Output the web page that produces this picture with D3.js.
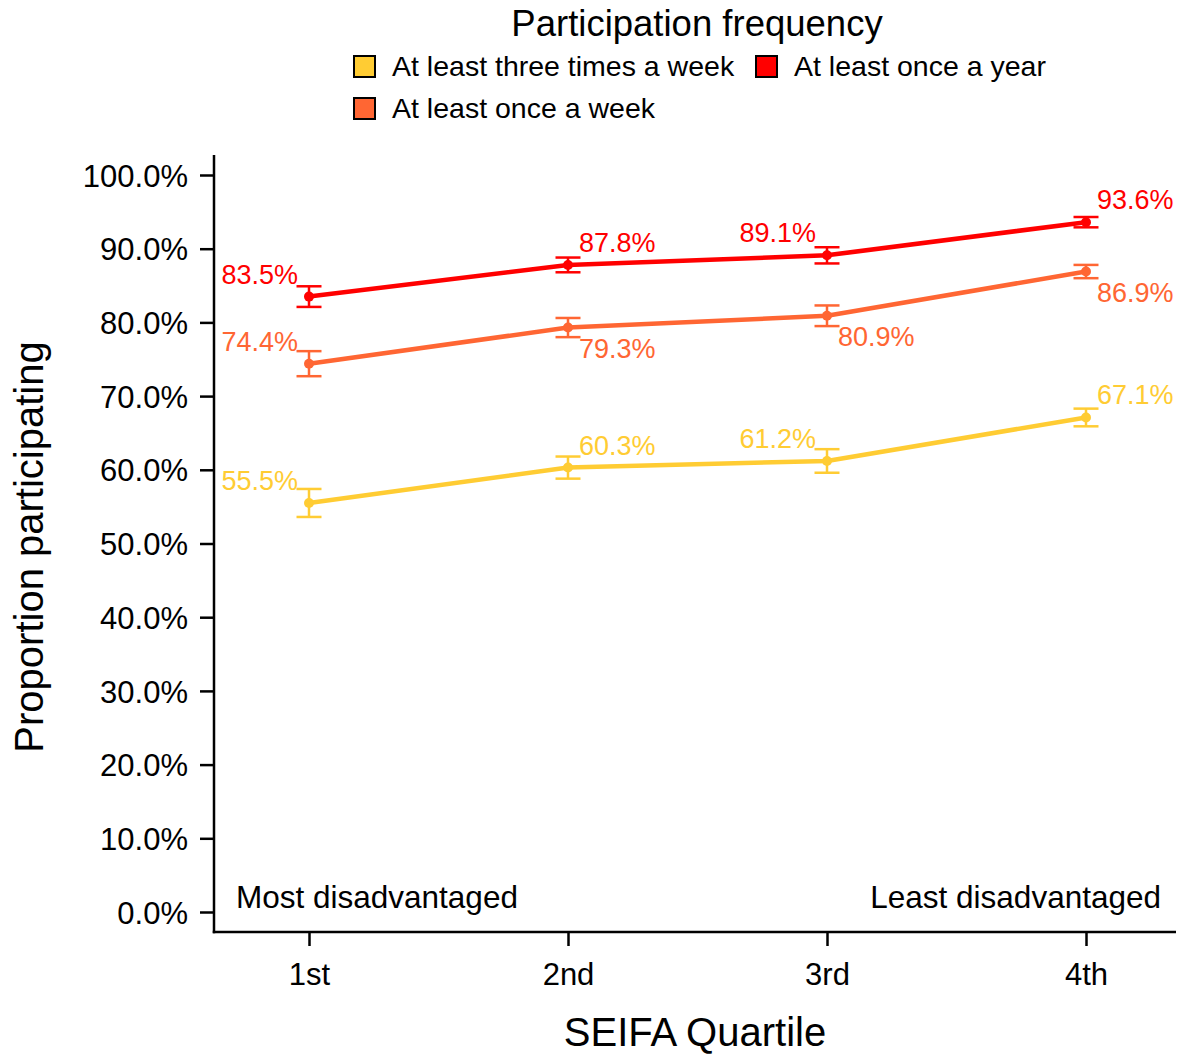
<!DOCTYPE html>
<html>
<head>
<meta charset="utf-8">
<script src="https://cdn.jsdelivr.net/npm/d3@7"></script>
<style>
  html, body { margin: 0; padding: 0; background: #fff; }
  svg { display: block; font-family: "Liberation Sans", Arial, sans-serif; }
</style>
</head>
<body>
<svg id="chart" width="1178" height="1055"></svg>
<script>
// ---- data ----
const quartiles = ["1st", "2nd", "3rd", "4th"];
const seriesNames = ["At least three times a week", "At least once a week", "At least once a year"];
const threeTimesWeek = [55.5, 60.3, 61.2, 67.1];
const threeTimesWeekLow = [53.6, 58.8, 59.6, 65.9];
const threeTimesWeekHigh = [57.4, 61.8, 62.8, 68.3];
const onceWeek = [74.4, 79.3, 80.9, 86.9];
const onceWeekLow = [72.7, 78.0, 79.5, 86.0];
const onceWeekHigh = [76.1, 80.6, 82.3, 87.8];
const onceYear = [83.5, 87.8, 89.1, 93.6];
const onceYearLow = [82.1, 86.8, 88.0, 92.9];
const onceYearHigh = [84.9, 88.8, 90.2, 94.3];
const yTicks = [0, 10, 20, 30, 40, 50, 60, 70, 80, 90, 100];

// ---- styles / label placement ----
const colors = ["#FFCC33", "#FF6633", "#FF0000"];
// label side: [horizontal: -1 left / 1 right, vertical: "above" / "below"]
const labelPlacement = [
  [[-1, "above"], [1, "above"], [-1, "above"], [1, "above"]],
  [[-1, "above"], [1, "below"], [1, "below"], [1, "below"]],
  [[-1, "above"], [1, "above"], [-1, "above"], [1, "above"]]
];

const series = [
  { name: seriesNames[0], values: threeTimesWeek, low: threeTimesWeekLow, high: threeTimesWeekHigh, color: colors[0] },
  { name: seriesNames[1], values: onceWeek, low: onceWeekLow, high: onceWeekHigh, color: colors[1] },
  { name: seriesNames[2], values: onceYear, low: onceYearLow, high: onceYearHigh, color: colors[2] }
];

const svg = d3.select("#chart");

const x = d3.scalePoint().domain(quartiles).range([309, 1086]);
const y = d3.scaleLinear().domain([0, 100]).range([912, 175]);

const axisLeftX = 214, axisBottomY = 932, axisTopY = 155, axisRightX = 1176;

// y axis
const yAxis = d3.axisLeft(y).tickValues(yTicks).tickFormat(d => d.toFixed(1) + "%").tickSize(14).tickPadding(12);
const gy = svg.append("g").attr("transform", `translate(${axisLeftX},0)`).call(yAxis);
gy.select(".domain").remove();
gy.selectAll(".tick line").attr("stroke", "#000").attr("stroke-width", 2.5);
gy.selectAll(".tick text").attr("font-size", 31).attr("fill", "#000").attr("font-family", "Liberation Sans, Arial, sans-serif").attr("dy", "0.36em");
svg.append("line").attr("x1", axisLeftX).attr("x2", axisLeftX).attr("y1", axisTopY).attr("y2", axisBottomY + 1.25)
  .attr("stroke", "#000").attr("stroke-width", 2.5);

// x axis
const xAxis = d3.axisBottom(x).tickSize(14).tickPadding(17);
const gx = svg.append("g").attr("transform", `translate(0,${axisBottomY})`).call(xAxis);
gx.select(".domain").remove();
gx.selectAll(".tick line").attr("stroke", "#000").attr("stroke-width", 2.5);
gx.selectAll(".tick text").attr("font-size", 31).attr("fill", "#000").attr("font-family", "Liberation Sans, Arial, sans-serif");
svg.append("line").attr("x1", axisLeftX - 1.25).attr("x2", axisRightX).attr("y1", axisBottomY).attr("y2", axisBottomY)
  .attr("stroke", "#000").attr("stroke-width", 2.5);

// axis titles
svg.append("text").attr("x", (axisLeftX + axisRightX) / 2).attr("y", 1046).attr("text-anchor", "middle")
  .attr("font-size", 40).attr("fill", "#000").text("SEIFA Quartile");
svg.append("text").attr("transform", "translate(43,547) rotate(-90)").attr("text-anchor", "middle")
  .attr("font-size", 40).attr("fill", "#000").text("Proportion participating");

// annotations
svg.append("text").attr("x", 236).attr("y", 908).attr("font-size", 31.5).attr("fill", "#000").text("Most disadvantaged");
svg.append("text").attr("x", 1161).attr("y", 908).attr("text-anchor", "end").attr("font-size", 31.5).attr("fill", "#000").text("Least disadvantaged");

// series
const line = d3.line().x((d, i) => x(quartiles[i])).y(d => y(d));
const capHalf = 12.5;

series.forEach((s, si) => {
  const g = svg.append("g");
  g.append("path").datum(s.values).attr("d", line).attr("fill", "none")
    .attr("stroke", s.color).attr("stroke-width", 4.5).attr("stroke-linejoin", "round");
  s.values.forEach((v, i) => {
    const cx = x(quartiles[i]);
    g.append("line").attr("x1", cx).attr("x2", cx).attr("y1", y(s.low[i])).attr("y2", y(s.high[i]))
      .attr("stroke", s.color).attr("stroke-width", 2.5);
    [s.low[i], s.high[i]].forEach(e => {
      g.append("line").attr("x1", cx - capHalf).attr("x2", cx + capHalf).attr("y1", y(e)).attr("y2", y(e))
        .attr("stroke", s.color).attr("stroke-width", 2.5);
    });
    g.append("circle").attr("cx", cx).attr("cy", y(v)).attr("r", 5).attr("fill", s.color);
    const [hs, vs] = labelPlacement[si][i];
    g.append("text")
      .attr("x", cx + hs * 11)
      .attr("y", y(v) + (vs === "above" ? -13 : 30))
      .attr("text-anchor", hs < 0 ? "end" : "start")
      .attr("font-size", 27).attr("fill", s.color)
      .text(v.toFixed(1) + "%");
  });
});

// legend
svg.append("text").attr("x", 697).attr("y", 36).attr("text-anchor", "middle").attr("font-size", 36.5).attr("fill", "#000")
  .text("Participation frequency");
const legendItems = [
  { si: 0, x: 353, y: 55 },
  { si: 2, x: 755, y: 55 },
  { si: 1, x: 353, y: 97 }
];
legendItems.forEach(it => {
  svg.append("rect").attr("x", it.x + 1).attr("y", it.y + 1).attr("width", 21).attr("height", 21)
    .attr("fill", series[it.si].color).attr("stroke", "#000").attr("stroke-width", 2);
  svg.append("text").attr("x", it.x + 39).attr("y", it.y + 21).attr("font-size", 28.5).attr("fill", "#000")
    .text(series[it.si].name);
});
</script>
</body>
</html>
